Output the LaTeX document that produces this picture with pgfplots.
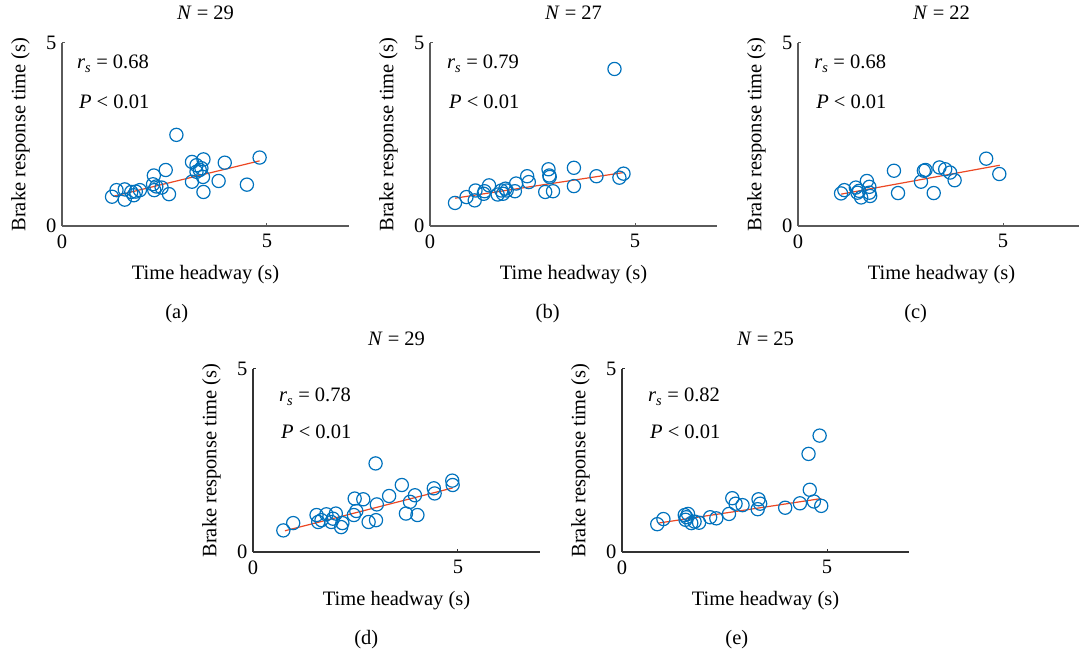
\documentclass[border=0pt]{standalone}
\usepackage{fontspec}
\setmainfont{Liberation Serif}
\usepackage{pgfplots}
\pgfplotsset{compat=1.18}
\definecolor{mblue}{RGB}{0,114,189}
\definecolor{mred}{RGB}{236,72,36}
\definecolor{axgrayA}{RGB}{90,90,90}
\definecolor{axgrayB}{RGB}{50,50,50}
\pgfplotsset{
  brt/.style={
    scale only axis, width=287pt, height=183pt,
    xmin=0, xmax=7, ymin=0, ymax=5,
    axis x line=bottom, axis y line=left,
    axis line style={-, line width=1.2pt},
    xtick={0,5}, ytick={0,5},
    major tick length=3pt, tick align=inside,
    tick style={line width=1pt},
    /pgf/number format/assume math mode=true,
    font=\fontsize{20.5}{24}\selectfont,
    ticklabel style={font=\fontsize{20.5}{24}\selectfont},
    xticklabel style={yshift=-5pt},
    yticklabel style={xshift=-2pt},
    xlabel={Time headway (s)},
    ylabel={Brake response time (s)},
    xlabel style={at={(axis description cs:0.5,-0.265)}, anchor=center},
    ylabel style={at={(axis description cs:-0.145,0.5)}, anchor=center},
    title style={at={(axis description cs:0.5,1.13)}, anchor=center},
    clip=false,
  },
  pts/.style={only marks, mark=o, mark size=6.6pt, mark options={line width=1.2pt, draw=mblue}},
  fit/.style={no marks, draw=mred, line width=1.2pt},
}
\begin{document}
\begin{tikzpicture}
\useasboundingbox (0,0) rectangle (1079pt,653pt);
% (a)
\begin{axis}[brt, at={(62pt,427pt)}, anchor=south west, axis line style={draw=axgrayA}, tick style={draw=axgrayA},
  title={\textit{N} = 29}]
\addplot[pts] coordinates {(1.22,0.80)(1.33,0.98)(1.53,1.00)(1.53,0.72)(1.69,0.93)(1.75,0.84)(1.80,0.94)(1.90,0.98)(2.24,1.38)(2.22,1.14)(2.25,0.98)(2.30,1.08)(2.43,1.05)(2.53,1.53)(2.61,0.87)(2.79,2.49)(3.17,1.75)(3.17,1.21)(3.28,1.66)(3.28,1.48)(3.36,1.53)(3.40,1.58)(3.45,1.82)(3.44,1.34)(3.45,0.93)(3.82,1.23)(3.97,1.73)(4.51,1.13)(4.82,1.87)};
\addplot[fit] coordinates {(1.25,0.81)(4.82,1.78)};
\node[anchor=base west] at (axis cs:0.28,4.29) {\textit{r}\textsubscript{\textit{s}} = 0.68};
\node[anchor=base west] at (axis cs:0.33,3.22) {\textit{P} < 0.01};
\node[anchor=center] at (axis description cs:0.40,-0.48) {(a)};
\end{axis}
% (b)
\begin{axis}[brt, at={(430pt,427pt)}, anchor=south west, axis line style={draw=axgrayA}, tick style={draw=axgrayA},
  title={\textit{N} = 27}]
\addplot[pts] coordinates {(0.61,0.63)(0.89,0.79)(1.09,0.70)(1.11,0.97)(1.31,0.88)(1.33,0.95)(1.44,1.11)(1.65,0.86)(1.74,0.97)(1.78,0.88)(1.84,1.02)(1.87,0.97)(2.07,0.95)(2.10,1.16)(2.37,1.36)(2.41,1.20)(2.81,0.93)(2.89,1.55)(2.91,1.38)(2.92,1.34)(3.00,0.95)(3.51,1.59)(3.51,1.09)(4.06,1.36)(4.50,4.29)(4.62,1.32)(4.72,1.43)};
\addplot[fit] coordinates {(0.61,0.76)(4.72,1.46)};
\node[anchor=base west] at (axis cs:0.33,4.29) {\textit{r}\textsubscript{\textit{s}} = 0.79};
\node[anchor=base west] at (axis cs:0.38,3.22) {\textit{P} < 0.01};
\node[anchor=center] at (axis description cs:0.41,-0.48) {(b)};
\end{axis}
% (c)
\begin{axis}[brt, at={(798pt,427pt)}, anchor=south west, axis line style={draw=axgrayA}, tick style={draw=axgrayA},
  title={\textit{N} = 22}]
\addplot[pts] coordinates {(1.05,0.89)(1.13,0.98)(1.41,1.05)(1.45,0.91)(1.54,0.78)(1.49,0.96)(1.68,1.23)(1.74,1.07)(1.74,0.91)(1.76,0.82)(2.34,1.51)(2.44,0.90)(3.00,1.21)(3.07,1.51)(3.11,1.53)(3.31,0.90)(3.45,1.60)(3.59,1.55)(3.71,1.46)(3.82,1.25)(4.59,1.84)(4.91,1.42)};
\addplot[fit] coordinates {(1.05,0.87)(4.92,1.66)};
\node[anchor=base west] at (axis cs:0.31,4.29) {\textit{r}\textsubscript{\textit{s}} = 0.68};
\node[anchor=base west] at (axis cs:0.36,3.22) {\textit{P} < 0.01};
\node[anchor=center] at (axis description cs:0.41,-0.48) {(c)};
\end{axis}
% (d)
\begin{axis}[brt, at={(253pt,101pt)}, anchor=south west, axis line style={draw=axgrayB}, tick style={draw=axgrayB},
  title={\textit{N} = 29}]
\addplot[pts] coordinates {(0.74,0.59)(0.98,0.79)(1.55,1.01)(1.59,0.82)(1.67,0.87)(1.79,1.03)(1.91,0.82)(1.95,0.91)(2.02,1.05)(2.15,0.68)(2.18,0.79)(2.48,1.46)(2.46,1.01)(2.52,1.12)(2.69,1.44)(2.82,0.82)(2.99,2.42)(3.00,0.87)(3.02,1.30)(3.32,1.53)(3.63,1.83)(3.73,1.05)(3.83,1.37)(3.95,1.55)(4.01,1.01)(4.41,1.74)(4.43,1.60)(4.86,1.95)(4.87,1.83)};
\addplot[fit] coordinates {(0.78,0.58)(4.87,1.75)};
\node[anchor=base west] at (axis cs:0.55,4.10) {\textit{r}\textsubscript{\textit{s}} = 0.78};
\node[anchor=base west] at (axis cs:0.60,3.11) {\textit{P} < 0.01};
\node[anchor=center] at (axis description cs:0.395,-0.48) {(d)};
\end{axis}
% (e)
\begin{axis}[brt, at={(622pt,101pt)}, anchor=south west, axis line style={draw=axgrayB}, tick style={draw=axgrayB},
  title={\textit{N} = 25}]
\addplot[pts] coordinates {(0.86,0.76)(1.01,0.90)(1.53,1.01)(1.57,0.95)(1.61,1.04)(1.55,0.88)(1.69,0.79)(1.77,0.83)(1.88,0.80)(2.15,0.95)(2.30,0.92)(2.61,1.04)(2.69,1.47)(2.77,1.32)(2.94,1.28)(3.31,1.17)(3.33,1.44)(3.37,1.32)(3.98,1.21)(4.34,1.33)(4.55,2.68)(4.58,1.70)(4.68,1.38)(4.82,3.18)(4.86,1.26)};
\addplot[fit] coordinates {(0.89,0.79)(4.86,1.46)};
\node[anchor=base west] at (axis cs:0.55,4.10) {\textit{r}\textsubscript{\textit{s}} = 0.82};
\node[anchor=base west] at (axis cs:0.60,3.11) {\textit{P} < 0.01};
\node[anchor=center] at (axis description cs:0.40,-0.48) {(e)};
\end{axis}
\end{tikzpicture}
\end{document}
